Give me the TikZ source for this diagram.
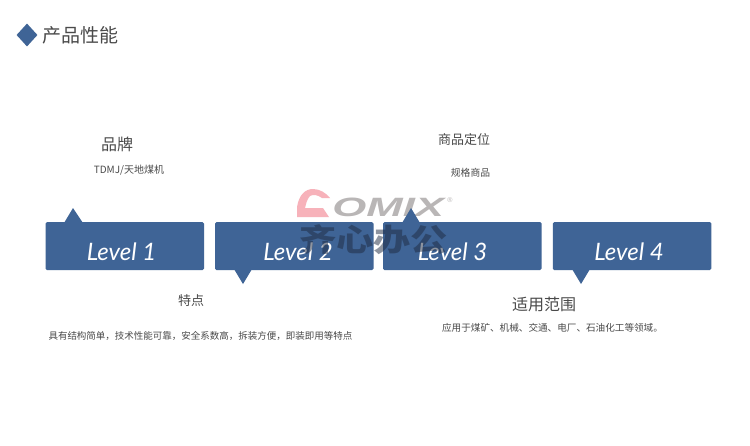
\documentclass[tikz,border=0pt]{standalone}
\usepackage{fontspec}
\setmainfont{Noto Sans CJK SC}
\newfontfamily\levelfont{Lato}
\newfontfamily\logofont{Liberation Sans}
\usetikzlibrary{shapes.geometric}
\definecolor{levelblue}{HTML}{3F6496}
\definecolor{inkgray}{HTML}{4A4A4A}
\definecolor{logopink}{HTML}{F7B2BA}
\definecolor{logogray}{HTML}{B9B6B6}
\definecolor{markdark}{HTML}{1E2A40}
\newcommand{\cnsep}{\symbol{"FF0C}}

\begin{document}
\begin{tikzpicture}[x=1pt,y=-1pt]
	\tikzstyle{every node}=[inner sep=0pt,text=inkgray]
	\tikzstyle{levelbox}=[fill=levelblue,rounded corners=1.5pt,minimum width=158.5pt,minimum height=48pt]
	\tikzstyle{leveltext}=[font=\levelfont\itshape\fontsize{24}{24}\selectfont,text=white]
	\tikzstyle{tip}=[fill=levelblue]
	\useasboundingbox (0,0) rectangle (750,445);
	\fill[white] (0,0) rectangle (750,445);
	% title
	\node[diamond,fill=levelblue,minimum width=21pt,minimum height=23pt] (mark) at (27,35) {};
	\node[anchor=west,font=\fontsize{19}{19}\selectfont] (title) at (42,35) {产品性能};
	% logo, behind the boxes
	\fill[logopink] (297,217) -- (297,207) .. controls (299,195) and (305,189) .. (313,189) .. controls (320,189) and (326,193) .. (330,198) -- (322,198) .. controls (318,195) and (313,194) .. (310,196) .. controls (307,199) and (306,204) .. (305,208) -- (323,208) -- (329,217) -- cycle;
	\node[anchor=west,xscale=1.65,font=\logofont\bfseries\itshape\fontsize{26.5}{26.5}\selectfont,text=logogray] (logo) at (332,207.5) {OMIX};
	\node[font=\logofont\fontsize{7}{7}\selectfont,text=logogray] (logoreg) at (450,200) {®};
	% level boxes
	\node[levelbox] (box1) at (124.75,246) {};
	\node[levelbox] (box2) at (294.25,246) {};
	\node[levelbox] (box3) at (462.25,246) {};
	\node[levelbox] (box4) at (632,246) {};
	\fill[tip] (64,223) -- (73,208) -- (83,223) -- cycle;
	\fill[tip] (234,269) -- (243,284) -- (252,269) -- cycle;
	\fill[tip] (402,223) -- (411,208) -- (420,223) -- cycle;
	\fill[tip] (572,269) -- (581,284) -- (590,269) -- cycle;
	\node[leveltext] (text1) at (121.5,252) {Level 1};
	\node[leveltext] (text2) at (298,252) {Level 2};
	\node[leveltext] (text3) at (452.5,252) {Level 3};
	\node[leveltext] (text4) at (629,252) {Level 4};
	% captions
	\node[font=\fontsize{16}{16}\selectfont] (brand) at (117,144) {品牌};
	\node[font=\fontsize{10}{10}\selectfont] (brandtext) at (129,170) {TDMJ/天地煤机};
	\node[font=\fontsize{13}{13}\selectfont] (feature) at (191,301) {特点};
	\node[font=\fontsize{9.5}{10}\selectfont] (featuretext) at (200.5,336) {具有结构简单\cnsep 技术性能可靠\cnsep 安全系数高\cnsep 拆装方便\cnsep 即装即用等特点};
	\node[font=\fontsize{13}{13}\selectfont] (position) at (464,139.5) {商品定位};
	\node[font=\fontsize{9.8}{10}\selectfont] (positiontext) at (470.5,173) {规格商品};
	\node[font=\fontsize{16}{16}\selectfont] (range) at (544,304) {适用范围};
	\node[font=\fontsize{9.6}{10}\selectfont] (rangetext) at (552.5,328) {应用于煤矿、机械、交通、电厂、石油化工等领域。};
	% watermark
	\node[xscale=1.2,font=\bfseries\fontsize{31}{31}\selectfont,text=markdark,opacity=.5] (wordmark) at (373.5,240) {齐心办公};
\end{tikzpicture}
\end{document}
